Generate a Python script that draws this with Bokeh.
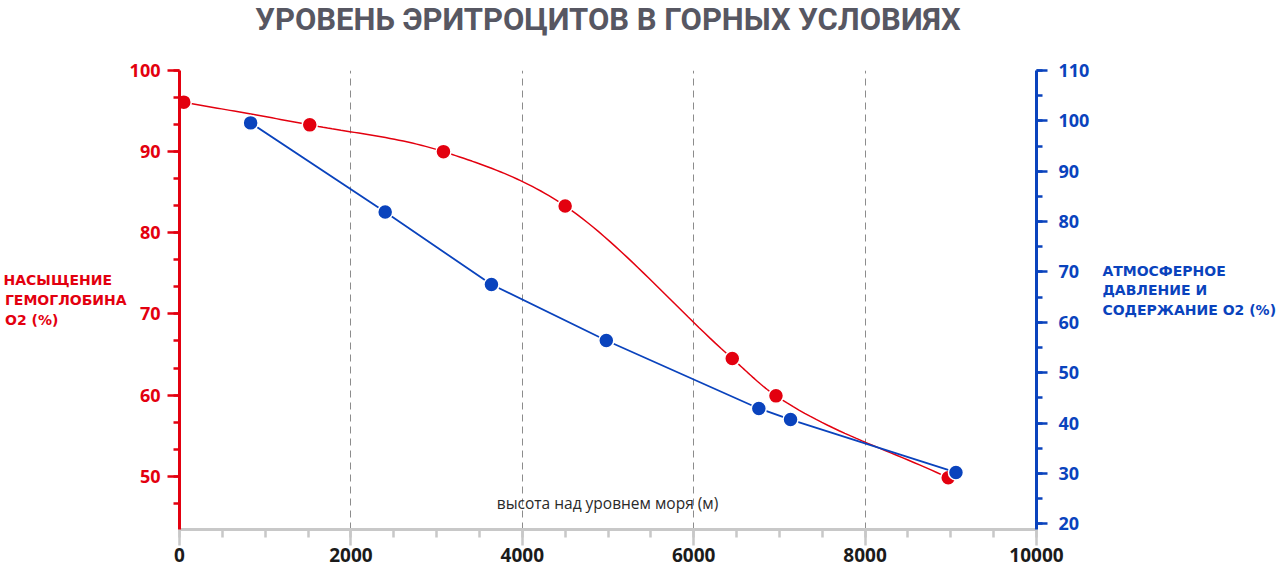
from bokeh.plotting import figure
from bokeh.models import Range1d, LinearAxis, SingleIntervalTicker, FixedTicker, Label, Title
from bokeh.embed import file_html
from bokeh.resources import INLINE

# ---------------- data ----------------
title_text = "УРОВЕНЬ ЭРИТРОЦИТОВ В ГОРНЫХ УСЛОВИЯХ"
x_label = "высота над уровнем моря (м)"
left_label_lines = ["НАСЫЩЕНИЕ", "ГЕМОГЛОБИНА", "O2 (%)"]
right_label_lines = ["АТМОСФЕРНОЕ", "ДАВЛЕНИЕ И", "СОДЕРЖАНИЕ O2 (%)"]

altitude_hb = [50, 1520, 3080, 4500, 6450, 6960, 8970]
hb_saturation = [96.1, 93.3, 90.0, 83.3, 64.5, 59.9, 49.8]

altitude_air = [830, 2400, 3640, 4980, 6760, 7130, 9060]
air_pressure = [99.6, 81.9, 67.5, 56.4, 42.9, 40.7, 30.2]

grid_ticks = [2000, 4000, 6000, 8000]

RED = "#e3000f"
BLUE = "#0a43bd"
GREY_AXIS = "#c8c8c8"
TITLE_COLOR = "#575762"

# ---------------- layout constants ----------------
W, H = 1280, 570
FL, FT, FW, FH = 179, 70, 857, 459
X0, X1 = 0, 10000
L0, L1 = 43.43, 100
R0, R1 = 18.87, 110

# left label: the axis right-aligns its lines, trailing spaces give a left-aligned look
left_pad = [3, 0, 14]
left_label = "\n".join(t + " " * n for t, n in zip(left_label_lines, left_pad))
right_label = "\n".join(right_label_lines) + "\n "


def monotone_curve(xs, ys, per_seg=30):
    n = len(xs)
    h = [xs[i + 1] - xs[i] for i in range(n - 1)]
    d = [(ys[i + 1] - ys[i]) / h[i] for i in range(n - 1)]
    m = [0.0] * n
    m[0] = d[0]
    m[-1] = d[-1]
    for i in range(1, n - 1):
        m[i] = 0.0 if d[i - 1] * d[i] <= 0 else (d[i - 1] + d[i]) / 2
    for i in range(n - 1):
        if d[i] == 0:
            m[i] = m[i + 1] = 0.0
            continue
        a, b = m[i] / d[i], m[i + 1] / d[i]
        s = a * a + b * b
        if s > 9:
            t = 3 / s ** 0.5
            m[i] = t * a * d[i]
            m[i + 1] = t * b * d[i]
    cx, cy = [], []
    for i in range(n - 1):
        for k in range(per_seg):
            t = k / per_seg
            h00 = 2 * t**3 - 3 * t**2 + 1
            h10 = t**3 - 2 * t**2 + t
            h01 = -2 * t**3 + 3 * t**2
            h11 = t**3 - t**2
            cx.append(xs[i] + t * h[i])
            cy.append(h00 * ys[i] + h10 * h[i] * m[i] + h01 * ys[i + 1] + h11 * h[i] * m[i + 1])
    cx.append(xs[-1])
    cy.append(ys[-1])
    return cx, cy


def px_to_x(px):
    return X0 + (px - FL) * (X1 - X0) / FW


def py_to_y(py):
    return L1 - (py - FT) * (L1 - L0) / FH


p = figure(width=W, height=H, output_backend="svg", toolbar_location=None,
           x_range=Range1d(X0, X1), y_range=Range1d(L0, L1),
           min_border_left=FL, min_border_right=W - FL - FW,
           min_border_top=FT, min_border_bottom=H - FT - FH,
           title=None)
p.outline_line_color = None
p.background_fill_color = "white"
p.border_fill_color = "white"
p.extra_y_ranges = {"right": Range1d(R0, R1)}

# spacer between frame and title, then the title itself at the top
p.add_layout(Title(text=" ", text_font_size="20px", standoff=10), "above")
p.add_layout(Title(text=title_text, align="center", vertical_align="top",
                   text_font="Roboto", text_font_style="bold",
                   text_font_size="31px", text_color=TITLE_COLOR,
                   standoff=-6), "above")

# grid
p.ygrid.visible = False
p.xgrid.ticker = FixedTicker(ticks=grid_ticks)
p.xgrid.grid_line_color = "#8c8c8c"
p.xgrid.grid_line_dash = "7 5"
p.xgrid.grid_line_width = 1

# x axis
xa = p.xaxis[0]
xa.ticker = SingleIntervalTicker(interval=2000, num_minor_ticks=4)
xa.axis_line_color = GREY_AXIS
xa.axis_line_width = 3
xa.major_tick_line_color = GREY_AXIS
xa.minor_tick_line_color = GREY_AXIS
xa.major_tick_line_width = 2.5
xa.minor_tick_line_width = 2.5
xa.major_tick_in = 0
xa.major_tick_out = 16
xa.minor_tick_in = 0
xa.minor_tick_out = 8
xa.major_label_standoff = 2
xa.major_label_text_font = "Open Sans"
xa.major_label_text_font_style = "bold"
xa.major_label_text_font_size = "19px"
xa.major_label_text_color = "#1b1b1b"

# left axis
ya = p.yaxis[0]
ya.ticker = SingleIntervalTicker(interval=10, num_minor_ticks=3)
ya.axis_line_color = RED
ya.axis_line_width = 3
ya.major_tick_line_color = RED
ya.minor_tick_line_color = RED
ya.major_tick_line_width = 2.5
ya.minor_tick_line_width = 2.5
ya.major_tick_in = 0
ya.major_tick_out = 12
ya.minor_tick_in = 0
ya.minor_tick_out = 6
ya.major_label_standoff = 7
ya.major_label_text_font = "Open Sans"
ya.major_label_text_font_style = "bold"
ya.major_label_text_font_size = "18px"
ya.major_label_text_color = RED
ya.axis_label = left_label
ya.axis_label_orientation = "horizontal"
ya.axis_label_standoff = 0
ya.axis_label_text_font = "DejaVu Sans"
ya.axis_label_text_font_style = "bold"
ya.axis_label_text_font_size = "14px"
ya.axis_label_text_color = RED
ya.axis_label_text_line_height = 1.26

# right axis
ra = LinearAxis(y_range_name="right",
                ticker=SingleIntervalTicker(interval=10, num_minor_ticks=2))
ra.axis_line_color = BLUE
ra.axis_line_width = 3
ra.major_tick_line_color = BLUE
ra.minor_tick_line_color = BLUE
ra.major_tick_line_width = 2.5
ra.minor_tick_line_width = 2.5
ra.major_tick_in = 0
ra.major_tick_out = 11
ra.minor_tick_in = 0
ra.minor_tick_out = 6
ra.major_label_standoff = 11
ra.major_label_text_font = "Open Sans"
ra.major_label_text_font_style = "bold"
ra.major_label_text_font_size = "18px"
ra.major_label_text_color = BLUE
ra.axis_label = right_label
ra.axis_label_orientation = "horizontal"
ra.axis_label_standoff = 10
ra.axis_label_text_font = "DejaVu Sans"
ra.axis_label_text_font_style = "bold"
ra.axis_label_text_font_size = "14px"
ra.axis_label_text_color = BLUE
ra.axis_label_text_line_height = 1.22
p.add_layout(ra, "right")

# series: hemoglobin saturation (left axis, smoothed line)
cx, cy = monotone_curve(altitude_hb, hb_saturation)
p.line(cx, cy, line_color=RED, line_width=1.5)
p.scatter(altitude_hb, hb_saturation, size=15, fill_color=RED,
          line_color="white", line_width=1.5)

# series: atmospheric pressure (right axis)
p.line(altitude_air, air_pressure, y_range_name="right", line_color=BLUE, line_width=1.8)
p.scatter(altitude_air, air_pressure, y_range_name="right", size=15,
          fill_color=BLUE, line_color="white", line_width=1.5)

# x-axis caption inside the plot area
p.add_layout(Label(x=px_to_x(607), y=py_to_y(502), text=x_label,
                   text_align="center", text_baseline="middle",
                   text_font="Open Sans", text_font_size="15.5px",
                   text_color="#2a2a2a"))

open("out.html", "w").write(file_html(p, INLINE))
